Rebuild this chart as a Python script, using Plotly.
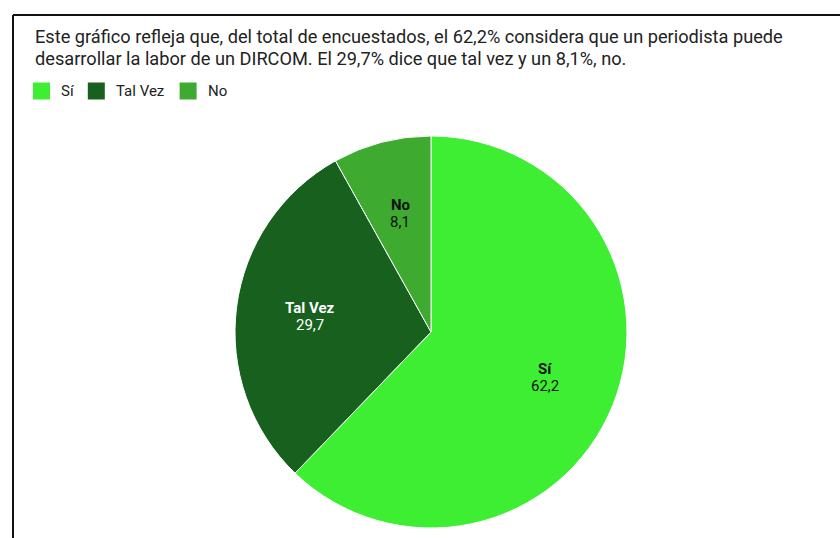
import math
import plotly.graph_objects as go

# Survey answers: can a journalist do a DIRCOM's job?
labels = ["Sí", "Tal Vez", "No"]
values = [62.2, 29.7, 8.1]
colors = ["#3dee33", "#17601e", "#3eaa30"]
text_colors = ["#111111", "#ffffff", "#111111"]

subtitle_lines = [
    "Este gráfico refleja que, del total de encuestados, el 62,2% considera que un periodista puede",
    "desarrollar la labor de un DIRCOM. El 29,7% dice que tal vez y un 8,1%, no.",
]

W, H = 840, 538
FONT = "Roboto, Arial, sans-serif"

# pie placement in pixels
cx, cy, r = 431, 332, 196

fig = go.Figure(go.Pie(
    labels=labels,
    values=values,
    sort=False,
    direction="clockwise",
    rotation=0,
    marker=dict(colors=colors, line=dict(color="#ffffff", width=1)),
    textinfo="none",
    hoverinfo="label+value",
    showlegend=False,
    domain=dict(x=[(cx - r) / W, (cx + r) / W],
                y=[(H - cy - r) / H, (H - cy + r) / H]),
))

shapes = [
    # page frame
    dict(type="line", xref="paper", yref="paper", x0=13 / W, x1=1.01, y0=1 - 15 / H, y1=1 - 15 / H,
         line=dict(color="#111111", width=2)),
    dict(type="line", xref="paper", yref="paper", x0=13 / W, x1=13 / W, y0=1 - 15 / H, y1=-0.01,
         line=dict(color="#111111", width=2)),
]
annotations = []
for i, line in enumerate(subtitle_lines):
    annotations.append(dict(text=line, x=33 / W, y=1 - (37 + 21 * i) / H, xref="paper", yref="paper",
                            xanchor="left", yanchor="middle", align="left", showarrow=False,
                            font=dict(family=FONT, size=18.2, color="#222222")))

# slice labels placed along each slice's mid angle (clockwise from 12 o'clock)
total = sum(values)
acc = 0.0
label_r = 0.625 * r
for lab, val, tc in zip(labels, values, text_colors):
    mid = (acc + val / 2) / total * 2 * math.pi
    acc += val
    px = cx + label_r * math.sin(mid)
    py = cy - label_r * math.cos(mid)
    for dy, txt in ((-8.5, f"<b>{lab}</b>"), (8.5, f"{val:.1f}".replace(".", ","))):
        annotations.append(dict(text=txt, x=px / W, y=1 - (py + dy) / H, xref="paper", yref="paper",
                                xanchor="center", yanchor="middle", showarrow=False,
                                font=dict(family=FONT, size=15, color=tc)))

# custom legend row
sq = 17
lx = 33
ly = 91
char_w = 7.4
for lab, col in zip(labels, colors):
    shapes.append(dict(type="rect", xref="paper", yref="paper",
                       x0=lx / W, x1=(lx + sq) / W,
                       y0=1 - (ly + sq / 2) / H, y1=1 - (ly - sq / 2) / H,
                       fillcolor=col, line=dict(width=0)))
    annotations.append(dict(text=lab, x=(lx + sq + 9) / W, y=1 - ly / H, xref="paper", yref="paper",
                            xanchor="left", yanchor="middle", showarrow=False,
                            font=dict(family=FONT, size=15, color="#222222")))
    lx += sq + 9 + len(lab) * char_w + 14

fig.update_layout(
    width=W, height=H,
    margin=dict(l=0, r=0, t=0, b=0),
    paper_bgcolor="#ffffff",
    separators=",.",
    shapes=shapes,
    annotations=annotations,
)

fig.write_html("out.html")
